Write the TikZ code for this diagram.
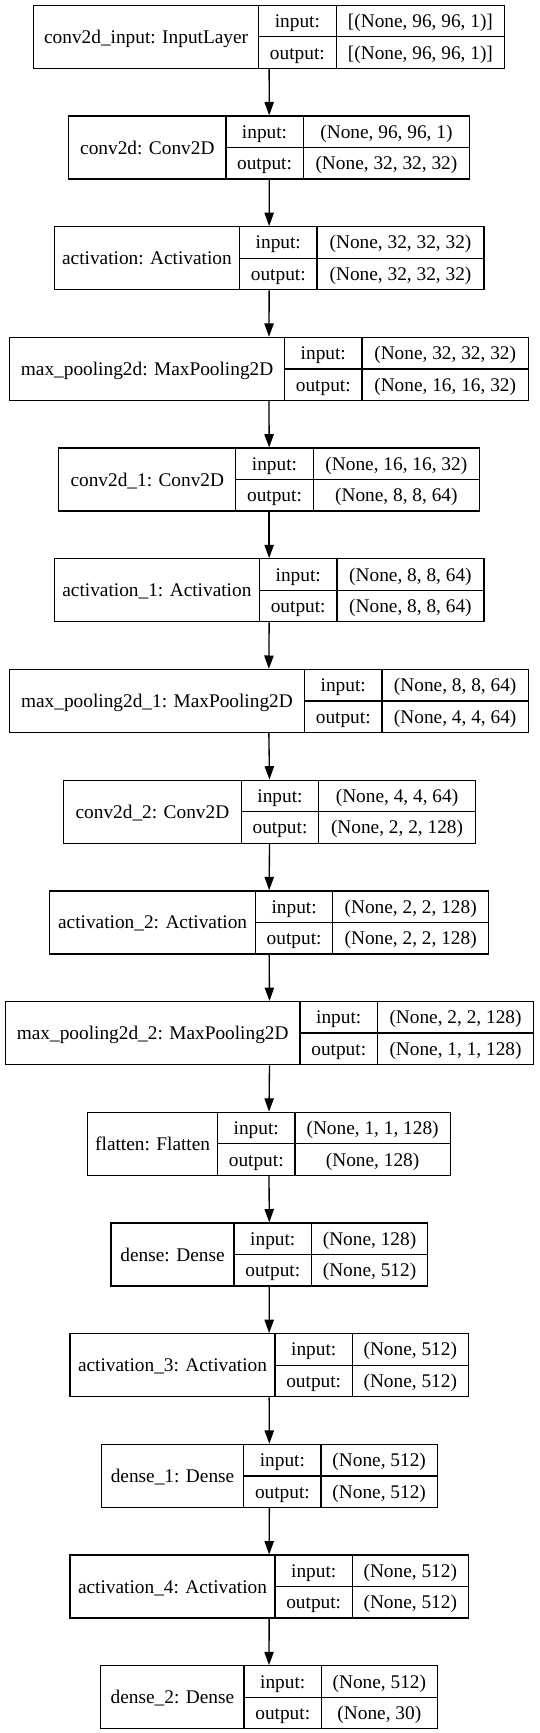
\documentclass[tikz,border=0pt]{standalone}
\usepackage{fontspec}
\setmainfont{Liberation Serif}
\usetikzlibrary{arrows.meta,fit}
\tikzset{
  boxfit/.style={draw=black, line width=1pt, inner sep=0pt},
  frame/.style={draw=black, line width=1pt},
  txt/.style={inner sep=0pt, text height=9.8pt, text depth=0pt, font=\fontsize{14.5}{16}\selectfont},
  link/.style={draw=black, line width=1pt, -{Triangle[length=10pt,width=7pt]}}
}
% #1 id, #2 index, #3 L, #4 d1, #5 d2, #6 R, #7 label, #8 input, #9 output
\newcommand\layerbox[9]{%
  \pgfmathsetmacro\lbty{5.3+110.7*#2}%
  \pgfmathsetmacro\lbby{\lbty+63}%
  \pgfmathsetmacro\lbmy{\lbty+31.5}%
  \pgfmathsetmacro\lbry{\lbty+15.75}%
  \pgfmathsetmacro\lbsy{\lbty+47.25}%
  \node[boxfit, fit={(#3,\lbty) (#6,\lbby)}] (#1) {};
  \draw[frame] (#4,\lbty) -- (#4,\lbby) (#5,\lbty) -- (#5,\lbby) (#4,\lbmy) -- (#6,\lbmy);
  \node[txt] (#1-name) at ({(#3+#4)/2},\lbmy) {#7};
  \node[txt] (#1-il) at ({(#4+#5)/2},\lbry) {input:};
  \node[txt] (#1-ol) at ({(#4+#5)/2},\lbsy) {output:};
  \node[txt] (#1-iv) at ({(#5+#6)/2},\lbry) {#8};
  \node[txt] (#1-ov) at ({(#5+#6)/2},\lbsy) {#9};
}
\begin{document}
\begin{tikzpicture}[x=0.75pt,y=-0.75pt]
\fill[white] (0,0) rectangle (539,1733);
\useasboundingbox (0,0) rectangle (539,1733);
\layerbox{b1}{0}{33.7}{258.5}{336.2}{504.6}{conv2d\_input: InputLayer}{[(None, 96, 96, 1)]}{[(None, 96, 96, 1)]}
\layerbox{b2}{1}{68.8}{225.9}{303.2}{469.6}{conv2d: Conv2D}{(None, 96, 96, 1)}{(None, 32, 32, 32)}
\layerbox{b3}{2}{54.3}{239.6}{317.0}{484.0}{activation: Activation}{(None, 32, 32, 32)}{(None, 32, 32, 32)}
\layerbox{b4}{3}{9.6}{284.6}{362.0}{528.4}{max\_pooling2d: MaxPooling2D}{(None, 32, 32, 32)}{(None, 16, 16, 32)}
\layerbox{b5}{4}{58.8}{235.8}{313.2}{479.5}{conv2d\_1: Conv2D}{(None, 16, 16, 32)}{(None, 8, 8, 64)}
\layerbox{b6}{5}{54.3}{259.5}{336.9}{484.0}{activation\_1: Activation}{(None, 8, 8, 64)}{(None, 8, 8, 64)}
\layerbox{b7}{6}{9.3}{304.6}{381.9}{528.4}{max\_pooling2d\_1: MaxPooling2D}{(None, 8, 8, 64)}{(None, 4, 4, 64)}
\layerbox{b8}{7}{63.6}{241.3}{318.7}{475.4}{conv2d\_2: Conv2D}{(None, 4, 4, 64)}{(None, 2, 2, 128)}
\layerbox{b9}{8}{49.8}{255.4}{332.8}{488.5}{activation\_2: Activation}{(None, 2, 2, 128)}{(None, 2, 2, 128)}
\layerbox{b10}{9}{5.3}{300.1}{377.4}{533.7}{max\_pooling2d\_2: MaxPooling2D}{(None, 2, 2, 128)}{(None, 1, 1, 128)}
\layerbox{b11}{10}{87.7}{217.6}{294.9}{450.3}{flatten: Flatten}{(None, 1, 1, 128)}{(None, 128)}
\layerbox{b12}{11}{111.0}{234.1}{311.5}{427.6}{dense: Dense}{(None, 128)}{(None, 512)}
\layerbox{b13}{12}{70.1}{275.0}{352.4}{468.2}{activation\_3: Activation}{(None, 512)}{(None, 512)}
\layerbox{b14}{13}{101.4}{243.7}{321.1}{437.3}{dense\_1: Dense}{(None, 512)}{(None, 512)}
\layerbox{b15}{14}{70.1}{275.0}{352.4}{468.2}{activation\_4: Activation}{(None, 512)}{(None, 512)}
\layerbox{b16}{15}{100.7}{244.1}{321.4}{437.3}{dense\_2: Dense}{(None, 512)}{(None, 30)}
\foreach \a/\b in {b1/b2,b2/b3,b3/b4,b4/b5,b5/b6,b6/b7,b7/b8,b8/b9,b9/b10,b10/b11,b11/b12,b12/b13,b13/b14,b14/b15,b15/b16}
  \draw[link] (\a.south) -- (\b.north);
\end{tikzpicture}
\end{document}
